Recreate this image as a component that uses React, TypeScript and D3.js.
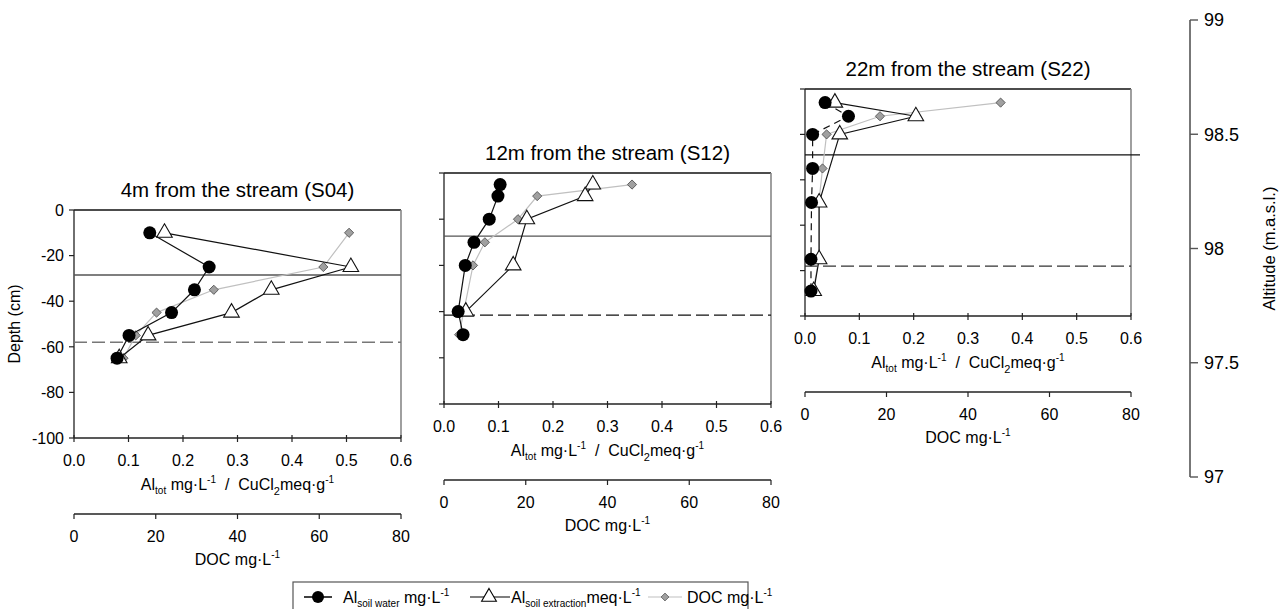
import React from "react";
import * as d3 from "d3";

// ---------- ticks ----------
const depthTicks = [0, -20, -40, -60, -80, -100];
const alTicks = [0, 0.1, 0.2, 0.3, 0.4, 0.5, 0.6];
const docTicks = [0, 20, 40, 60, 80];
const altitudeTicks = [97, 97.5, 98, 98.5, 99];

// ---------- S04 ----------
const s04WaterDepth = [-10, -25, -35, -45, -55, -65];
const s04WaterAl = [0.139, 0.248, 0.221, 0.179, 0.101, 0.079];
const s04ExtrDepth = [-10, -25, -35, -45, -55, -65];
const s04ExtrAl = [0.166, 0.508, 0.362, 0.289, 0.136, 0.083];
const s04DocDepth = [-10, -25, -35, -45, -55, -65];
const s04Doc = [67.3, 61.0, 34.2, 20.2, 15.1, 12.1];
const s04Horizons = [-28.5, -58];

// ---------- S12 ----------
const s12WaterDepth = [-5, -10, -20, -30, -40, -60, -70];
const s12WaterAl = [0.103, 0.099, 0.083, 0.055, 0.039, 0.026, 0.035];
const s12ExtrDepth = [-5, -10, -20, -40, -60];
const s12ExtrAl = [0.273, 0.259, 0.152, 0.127, 0.04];
const s12DocDepth = [-5, -10, -20, -30, -40, -70];
const s12Doc = [46.0, 22.8, 18.1, 10.0, 7.1, 3.7];
const s12Horizons = [-27.3, -61.5];

// ---------- S22 ----------
const s22WaterDepth = [-6, -12, -20, -35, -50, -75, -89];
const s22WaterAl = [0.037, 0.08, 0.014, 0.014, 0.012, 0.011, 0.011];
const s22ExtrDepth = [-6, -12, -20, -50, -75, -89];
const s22ExtrAl = [0.055, 0.204, 0.064, 0.026, 0.026, 0.016];
const s22DocDepth = [-6, -12, -20, -35, -50, -75, -89];
const s22Doc = [48.0, 18.4, 5.3, 4.3, 3.4, 3.4, 2.0];
const s22Horizons = [-29, -78];

const titles = ["4m from the stream (S04)", "12m from the stream (S12)", "22m from the stream (S22)"];

const FONT = "'Liberation Sans', Arial, sans-serif";
const NB = "\u00a0";

type Series = { depth: number[]; val: number[] };
type PanelDef = {
  title: string;
  x0: number; x1: number; yTop: number; yBot: number;
  water: Series; extr: Series; doc: Series;
  horizons: number[];
  showDepthLabels: boolean;
  waterDashed: boolean;
  solidExtend: number;
  solidColor: string; dashColor: string;
};

const panels: PanelDef[] = [
  {
    title: titles[0], x0: 74, x1: 401, yTop: 210, yBot: 438,
    water: { depth: s04WaterDepth, val: s04WaterAl },
    extr: { depth: s04ExtrDepth, val: s04ExtrAl },
    doc: { depth: s04DocDepth, val: s04Doc },
    horizons: s04Horizons, showDepthLabels: true, waterDashed: false, solidExtend: 0,
    solidColor: "#555", dashColor: "#777",
  },
  {
    title: titles[1], x0: 444, x1: 771, yTop: 173, yBot: 404,
    water: { depth: s12WaterDepth, val: s12WaterAl },
    extr: { depth: s12ExtrDepth, val: s12ExtrAl },
    doc: { depth: s12DocDepth, val: s12Doc },
    horizons: s12Horizons, showDepthLabels: false, waterDashed: false, solidExtend: 0,
    solidColor: "#555", dashColor: "#111",
  },
  {
    title: titles[2], x0: 805, x1: 1131, yTop: 89, yBot: 316,
    water: { depth: s22WaterDepth, val: s22WaterAl },
    extr: { depth: s22ExtrDepth, val: s22ExtrAl },
    doc: { depth: s22DocDepth, val: s22Doc },
    horizons: s22Horizons, showDepthLabels: false, waterDashed: true, solidExtend: 9,
    solidColor: "#111", dashColor: "#333",
  },
];

const triPath = d3.symbol().type(d3.symbolTriangle).size(105)() as string;
const triLegend = d3.symbol().type(d3.symbolTriangle).size(95)() as string;
const diamondPath = "M0,-4.6L4.6,0L0,4.6L-4.6,0Z";

function AlLabel({ x, y }: { x: number; y: number }) {
  return (
    <text x={x} y={y} textAnchor="middle" fontSize={16} fontFamily={FONT}>
      <tspan>Al</tspan>
      <tspan fontSize={10} dy={4}>tot</tspan>
      <tspan dy={-4}>{NB}mg·L</tspan>
      <tspan fontSize={10} dy={-7}>-1</tspan>
      <tspan dy={7}>{NB + NB}/{NB + NB}CuCl</tspan>
      <tspan fontSize={11} dy={5}>2</tspan>
      <tspan dy={-5}>meq·g</tspan>
      <tspan fontSize={10} dy={-7}>-1</tspan>
    </text>
  );
}

function DocLabel({ x, y, size = 16 }: { x: number; y: number; size?: number }) {
  return (
    <text x={x} y={y} textAnchor="middle" fontSize={size} fontFamily={FONT}>
      <tspan>DOC mg·L</tspan>
      <tspan fontSize={10} dy={-7}>-1</tspan>
    </text>
  );
}

function Panel({ p }: { p: PanelDef }) {
  const x = d3.scaleLinear().domain([0, 0.6]).range([p.x0, p.x1]);
  const xd = d3.scaleLinear().domain([0, 80]).range([p.x0, p.x1]);
  const y = d3.scaleLinear().domain([0, -100]).range([p.yTop, p.yBot]);
  const mk = (s: Series, sc: d3.ScaleLinear<number, number>) =>
    d3.line<number>().x((d) => sc(d)).y((_, i) => y(s.depth[i]))(s.val) as string;
  const cx = (p.x0 + p.x1) / 2;
  const off = p.yBot;
  return (
    <g fontFamily={FONT}>
      <text x={cx} y={p.yTop - 13} textAnchor="middle" fontSize={20.5}>{p.title}</text>
      {/* frame */}
      <line x1={p.x0} x2={p.x1} y1={p.yTop} y2={p.yTop} stroke="#111" strokeWidth={1.3} />
      <line x1={p.x1} x2={p.x1} y1={p.yTop} y2={p.yBot} stroke="#888" strokeWidth={1.6} />
      <line x1={p.x0} x2={p.x0} y1={p.yTop} y2={p.yBot} stroke="#222" strokeWidth={1.3} />
      <line x1={p.x0} x2={p.x1} y1={p.yBot} y2={p.yBot} stroke="#222" strokeWidth={1.3} />
      {depthTicks.map((t) => (
        <g key={"d" + t}>
          <line x1={p.x0 - 5} x2={p.x0} y1={y(t)} y2={y(t)} stroke="#222" strokeWidth={1.2} />
          {p.showDepthLabels && (
            <text x={p.x0 - 10} y={y(t)} dy="0.36em" textAnchor="end" fontSize={16}>{t}</text>
          )}
        </g>
      ))}
      {alTicks.map((t) => (
        <g key={"a" + t}>
          <line x1={x(t)} x2={x(t)} y1={off - 3} y2={off + 4} stroke="#222" strokeWidth={1.2} />
          <text x={x(t)} y={off + 22} dy="0.36em" textAnchor="middle" fontSize={16}>{t.toFixed(1)}</text>
        </g>
      ))}
      <AlLabel x={cx} y={off + 52} />
      {/* DOC axis */}
      <line x1={p.x0} x2={p.x1} y1={off + 76} y2={off + 76} stroke="#222" strokeWidth={1.3} />
      {docTicks.map((t) => (
        <g key={"c" + t}>
          <line x1={xd(t)} x2={xd(t)} y1={off + 76} y2={off + 81} stroke="#222" strokeWidth={1.2} />
          <text x={xd(t)} y={off + 98} dy="0.36em" textAnchor="middle" fontSize={16}>{t}</text>
        </g>
      ))}
      <DocLabel x={cx} y={off + 127} />
      {/* horizons */}
      <line x1={p.x0} x2={p.x1 + p.solidExtend} y1={y(p.horizons[0])} y2={y(p.horizons[0])} stroke={p.solidColor} strokeWidth={1.3} />
      <line x1={p.x0} x2={p.x1} y1={y(p.horizons[1])} y2={y(p.horizons[1])} stroke={p.dashColor} strokeWidth={1.3} strokeDasharray="13,5" />
      {/* DOC series */}
      <path d={mk(p.doc, xd)} fill="none" stroke="#c0c0c0" strokeWidth={1.2} />
      {p.doc.val.map((v, i) => (
        <path key={"dm" + i} d={diamondPath} transform={`translate(${xd(v)},${y(p.doc.depth[i])})`} fill="#a0a0a0" stroke="#444" strokeWidth={0.8} />
      ))}
      {/* extraction */}
      <path d={mk(p.extr, x)} fill="none" stroke="#111" strokeWidth={1.2} />
      {p.extr.val.map((v, i) => (
        <path key={"tr" + i} d={triPath} transform={`translate(${x(v)},${y(p.extr.depth[i])})`} fill="#fff" stroke="#111" strokeWidth={1.1} />
      ))}
      {/* soil water */}
      <path d={mk(p.water, x)} fill="none" stroke="#111" strokeWidth={1.2} strokeDasharray={p.waterDashed ? "7,5" : undefined} />
      {p.water.val.map((v, i) => (
        <circle key={"ci" + i} cx={x(v)} cy={y(p.water.depth[i])} r={6.5} fill="#000" />
      ))}
    </g>
  );
}

function AltitudeAxis() {
  const ya = d3.scaleLinear().domain([97, 99]).range([477, 20]);
  const ax = 1190;
  return (
    <g fontFamily={FONT}>
      <line x1={ax} x2={ax} y1={ya(99)} y2={ya(97)} stroke="#555" strokeWidth={1.6} />
      {altitudeTicks.map((t) => (
        <g key={t}>
          <line x1={ax} x2={ax + 8} y1={ya(t)} y2={ya(t)} stroke="#555" strokeWidth={1.4} />
          <text x={ax + 14} y={ya(t)} dy="0.36em" fontSize={18}>{t}</text>
        </g>
      ))}
      <text transform={`translate(1275,${ya(98)}) rotate(-90)`} textAnchor="middle" fontSize={16.5}>Altitude (m.a.s.l.)</text>
    </g>
  );
}

function Legend() {
  const ly = 597;
  return (
    <g fontFamily={FONT}>
      <rect x={293} y={582} width={455} height={40} fill="#fff" stroke="#555" strokeWidth={1.2} />
      <line x1={304} x2={332} y1={ly} y2={ly} stroke="#000" strokeWidth={1.5} />
      <circle cx={318} cy={ly} r={6} fill="#000" />
      <text x={343} y={ly + 6} fontSize={16}>
        <tspan>Al</tspan>
        <tspan fontSize={10} dy={4}>soil water</tspan>
        <tspan dy={-4}>{NB}mg·L</tspan>
        <tspan fontSize={10} dy={-7}>-1</tspan>
      </text>
      <line x1={470} x2={510} y1={ly} y2={ly} stroke="#000" strokeWidth={1.2} />
      <path d={triLegend} transform={`translate(489,${ly})`} fill="#fff" stroke="#000" strokeWidth={1.1} />
      <text x={511} y={ly + 6} fontSize={16}>
        <tspan>Al</tspan>
        <tspan fontSize={10} dy={4}>soil extraction</tspan>
        <tspan dy={-4}>meq·L</tspan>
        <tspan fontSize={10} dy={-7}>-1</tspan>
      </text>
      <line x1={648} x2={682} y1={ly} y2={ly} stroke="#c0c0c0" strokeWidth={1.2} />
      <path d={diamondPath} transform={`translate(665,${ly}) scale(0.85)`} fill="#a0a0a0" stroke="#444" strokeWidth={0.8} />
      <text x={687} y={ly + 6} fontSize={16}>
        <tspan>DOC mg·L</tspan>
        <tspan fontSize={10} dy={-7}>-1</tspan>
      </text>
    </g>
  );
}

export default function App() {
  return (
    <svg width={1284} height={609} style={{ position: "absolute", left: 0, top: 0, background: "#fff" }}>
      <rect width={1284} height={609} fill="#fff" />
      {panels.map((p, i) => <Panel key={i} p={p} />)}
      <text transform="translate(20,324) rotate(-90)" textAnchor="middle" fontSize={16} fontFamily={FONT}>Depth (cm)</text>
      <AltitudeAxis />
      <Legend />
    </svg>
  );
}
